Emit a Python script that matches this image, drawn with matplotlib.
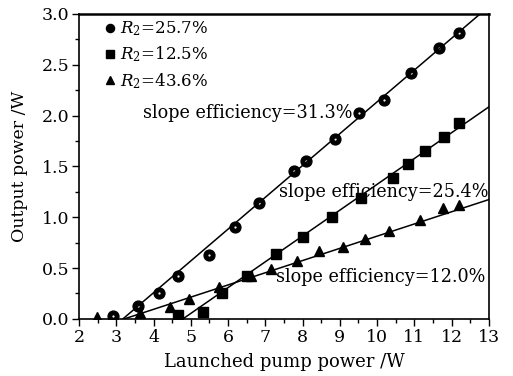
import matplotlib
matplotlib.use('Agg')
from matplotlib import pyplot as plt
import numpy as np

pump_r257 = [2.91, 3.58, 4.14, 4.65, 5.49, 6.18, 6.83, 7.76, 8.09, 8.86,
             9.51, 10.18, 10.90, 11.65, 12.21]
out_r257 = [0.03, 0.13, 0.25, 0.42, 0.63, 0.90, 1.14, 1.45, 1.55, 1.77,
            2.03, 2.15, 2.42, 2.66, 2.81]

pump_r125 = [4.65, 5.32, 5.83, 6.50, 7.28, 8.00, 8.80, 9.58, 10.42, 10.82,
             11.28, 11.79, 12.21]
out_r125 = [0.04, 0.07, 0.25, 0.42, 0.64, 0.81, 1.00, 1.19, 1.39, 1.52,
            1.65, 1.79, 1.93]

pump_r436 = [2.48, 3.64, 4.44, 4.95, 5.75, 6.61, 7.15, 7.84, 8.43, 9.08,
             9.67, 10.31, 11.14, 11.76, 12.21]
out_r436 = [0.02, 0.06, 0.12, 0.20, 0.31, 0.42, 0.49, 0.57, 0.67, 0.71,
            0.79, 0.86, 0.97, 1.09, 1.12]

# linear fits: (threshold pump power, slope)
fit_r257 = (3.18, 0.313)
fit_r125 = (4.79, 0.254)
fit_r436 = (3.22, 0.120)

labels = ['$R_2$=25.7%', '$R_2$=12.5%', '$R_2$=43.6%']
slope_texts = ['slope efficiency=31.3%', 'slope efficiency=25.4%',
               'slope efficiency=12.0%']

plt.rcParams['font.family'] = 'DejaVu Serif'
plt.rcParams['mathtext.fontset'] = 'dejavuserif'

fig = plt.figure(figsize=(5.13, 3.76), dpi=100)
ax = fig.add_axes([0.154, 0.152, 0.799, 0.811])

ax.plot(pump_r257, out_r257, 'o', color='black', ms=7.8, label=labels[0])
ax.plot(pump_r257, out_r257, '.', color='white', ms=1.2)
ax.plot(pump_r125, out_r125, 's', color='black', ms=6.8, label=labels[1])
ax.plot(pump_r436, out_r436, '^', color='black', ms=7.8, label=labels[2])

for x0, k in (fit_r257, fit_r125, fit_r436):
  x1 = min(13.0, x0 + 3.0 / k)
  xs = np.array([x0, x1])
  ax.plot(xs, k * (xs - x0), '-', color='black', lw=1.1)

ax.text(3.72, 2.03, slope_texts[0], fontsize=12.7, va='center')
ax.text(7.38, 1.25, slope_texts[1], fontsize=12.7, va='center')
ax.text(7.28, 0.41, slope_texts[2], fontsize=12.7, va='center')

ax.set_xlim(2, 13)
ax.set_ylim(0, 3.0)
ax.set_xticks(range(2, 14))
ax.set_xticks(np.arange(2.5, 13, 1.0), minor=True)
ax.set_yticks(np.arange(0, 3.01, 0.5))
ax.set_yticks(np.arange(0.25, 3.0, 0.5), minor=True)
ax.yaxis.set_major_formatter(matplotlib.ticker.FormatStrFormatter('%.1f'))
ax.tick_params(which='major', direction='out', length=5, width=1,
               labelsize=12.5, top=False, right=False, pad=2)
ax.tick_params(which='minor', direction='out', length=3, width=1,
               top=False, right=False)
for sp in ax.spines.values():
  sp.set_linewidth(1.2)
ax.spines['top'].set_linewidth(1.8)

ax.set_xlabel('Launched pump power /W', fontsize=13, labelpad=5)
ax.set_ylabel('Output power /W', fontsize=12.5, labelpad=10)

ax.legend(loc='upper left', frameon=False, fontsize=12, handlelength=0.6,
          handletextpad=0.3, labelspacing=0.4, markerscale=0.75,
          borderaxespad=0.2, bbox_to_anchor=(0.04, 1.015))

fig.savefig('out.png', dpi=100)
